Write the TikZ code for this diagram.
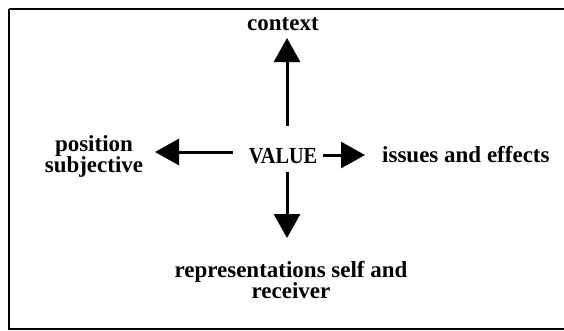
\documentclass[tikz,border=0pt]{standalone}
\usepackage{fontspec}
\usepackage{graphicx}
\setmainfont{Liberation Serif}
\usetikzlibrary{arrows.meta}
\begin{document}
\begin{tikzpicture}[x=1pt,y=-1pt,
  lbl/.style={font=\fontsize{23}{21}\selectfont\bfseries, inner sep=0pt, align=center},
  arr/.style={line width=3pt, -{Triangle[length=24pt,width=26pt]}}]
\useasboundingbox (0,0) rectangle (564,330);
\draw[line width=2.5pt] (9,9) -- (590,9) (9,9) -- (9,329) -- (590,329);
\node[lbl,anchor=base] (context) at (283,30) {context};
\node[lbl,anchor=base] (value) at (283,163) {\scalebox{0.88}[1]{VALUE}};
\node[lbl,anchor=base] (position) at (94,172) {position\\subjective};
\node[lbl,anchor=base west] (issues) at (382,162) {issues and effects};
\node[lbl,anchor=base] (repr) at (291,298) {representations self and\\receiver};
\coordinate (vN) at (287,126);
\coordinate (vS) at (287,172);
\coordinate (vW) at (233,152);
\coordinate (vE) at (323,155);
\coordinate (cS) at (287,38);
\coordinate (pE) at (155,152);
\coordinate (iW) at (365,155);
\coordinate (rN) at (287,238);
\draw[arr] (vN) -- (cS);
\draw[arr] (vS) -- (rN);
\draw[arr] (vW) -- (pE);
\draw[arr] (vE) -- (iW);
\end{tikzpicture}
\end{document}
